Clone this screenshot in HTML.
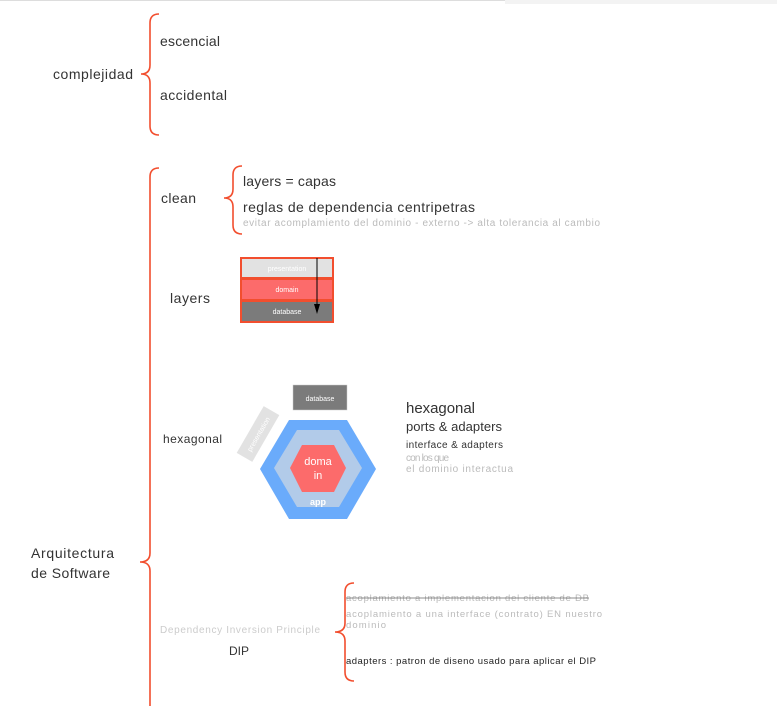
<!DOCTYPE html>
<html><head><meta charset="utf-8"><style>
html,body{margin:0;padding:0;background:#fff;}
svg{display:block;font-family:"Liberation Sans",sans-serif;}
</style></head><body>
<svg width="777" height="706" viewBox="0 0 777 706" xmlns="http://www.w3.org/2000/svg">
<line x1="0" y1="0.5" x2="777" y2="0.5" stroke="#ddd" stroke-width="1"/>
<rect x="505" y="0" width="272" height="4" fill="#f3f3f3"/>
<g fill="none" stroke="#f24e2e" stroke-width="1.6">
<path d="M159 14 Q150 14 150 23 L150 65 Q150 74 141 74 Q150 74 150 83 L150 126 Q150 135 159 135"/>
<path d="M159 168 Q150 168 150 177 L150 553 Q150 562 140 562 Q150 562 150 571 L150 706"/>
<path d="M242 166 Q233 166 233 175 L233 189 Q233 198 224 198 Q233 198 233 207 L233 225 Q233 234 242 234"/>
<path d="M354 583 Q345 583 345 592 L345 623 Q345 632 335 632 Q345 632 345 641 L345 672 Q345 681 354 681"/>
</g>
<g fill="#333" font-size="14">
<text x="53" y="79" textLength="80">complejidad</text>
<text x="160" y="46" textLength="60">escencial</text>
<text x="160" y="100" textLength="67">accidental</text>
<text x="161" y="203" textLength="35">clean</text>
<text x="243" y="186" textLength="93">layers = capas</text>
<text x="243" y="212" textLength="232">reglas de dependencia centripetras</text>
<text x="170" y="303" textLength="40">layers</text>
<text x="31" y="558" textLength="83">Arquitectura</text>
<text x="31" y="578" textLength="79">de Software</text>
<text x="406" y="413" font-size="15" textLength="69">hexagonal</text>
<text x="406" y="431" font-size="13" textLength="96">ports &amp; adapters</text>
</g>
<text x="163" y="443" font-size="12" fill="#333" textLength="59">hexagonal</text>
<text x="406" y="448" font-size="10" fill="#333" textLength="97">interface &amp; adapters</text>
<text x="406" y="461" font-size="10" fill="#bbb" textLength="43">con los que</text>
<text x="406" y="472" font-size="10" fill="#bbb" textLength="107">el dominio interactua</text>
<text x="243" y="226" font-size="10" fill="#bbb" textLength="357">evitar acomplamiento del dominio - externo -&gt; alta tolerancia al cambio</text>
<!-- layers -->
<rect x="240" y="257" width="94" height="66" fill="#f24e2e"/>
<rect x="242" y="259" width="90" height="18" fill="#e2e2e2"/>
<rect x="242" y="280" width="90" height="19" fill="#fc6b6b"/>
<rect x="242" y="302" width="90" height="19" fill="#7b7b7b"/>
<text x="287" y="271" font-size="7" fill="#fff" text-anchor="middle">presentation</text>
<text x="287" y="292" font-size="7" fill="#fff" text-anchor="middle">domain</text>
<text x="287" y="314" font-size="7" fill="#fff" text-anchor="middle">database</text>
<line x1="317" y1="258" x2="317" y2="305" stroke="#000" stroke-width="1"/>
<path d="M314 304 L320 304 L317 314 Z" fill="#000"/>
<!-- hexagon -->
<polygon points="289,420 347,420 376,469 347,519 289,519 260,469" fill="#6aabfb"/>
<polygon points="297,430 339,430 362,468 339,507 297,507 274,468" fill="#b2cbe9"/>
<polygon points="302,445 334,445 346,468 334,492 302,492 290,468" fill="#fc6b6b"/>
<text x="318" y="465" font-size="11" fill="#fff" text-anchor="middle">doma</text>
<text x="318" y="479" font-size="11" fill="#fff" text-anchor="middle">in</text>
<text x="318" y="505" font-size="9" fill="#fff" font-weight="bold" text-anchor="middle">app</text>
<rect x="293" y="385" width="54" height="25" fill="#7b7b7b" stroke="#ccc" stroke-width="0.5"/>
<text x="320" y="401" font-size="7" fill="#fff" text-anchor="middle">database</text>
<g transform="translate(258,434) rotate(-60)">
<rect x="-27" y="-9" width="54" height="18" fill="#e2e2e2"/>
<text x="0" y="3" font-size="7" fill="#fff" text-anchor="middle">presentation</text>
</g>
<!-- DIP -->
<text x="160" y="633" font-size="10" fill="#ccc" textLength="160">Dependency Inversion Principle</text>
<text x="229" y="655" font-size="12" fill="#333" textLength="20">DIP</text>
<text x="346" y="601" font-size="9.5" fill="#bbb" textLength="243">acoplamiento a implementacion del cliente de DB</text>
<line x1="346" y1="598" x2="589" y2="598" stroke="#666" stroke-width="0.8"/>
<text x="346" y="617" font-size="9.5" fill="#bbb" textLength="256">acoplamiento a una interface (contrato) EN nuestro</text>
<text x="346" y="628" font-size="9.5" fill="#bbb" textLength="40">dominio</text>
<text x="346" y="664" font-size="9.5" fill="#222" textLength="250">adapters : patron de diseno usado para aplicar el DIP</text>
</svg>
</body></html>
